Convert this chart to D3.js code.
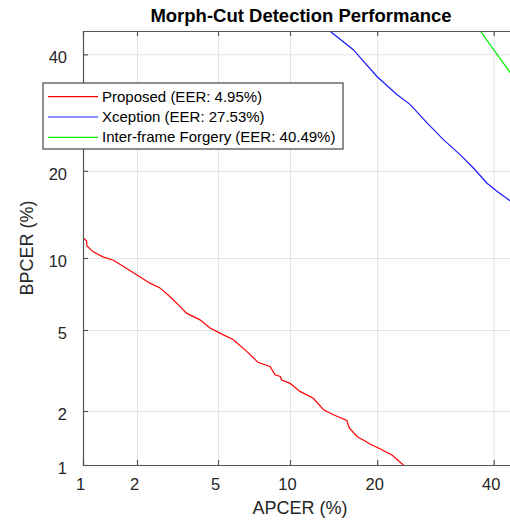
<!DOCTYPE html>
<html lang="en">
<head>
    <meta charset="UTF-8">
    <title>Morph-Cut Detection Performance</title>
    <script src="https://d3js.org/d3.v7.min.js"></script>
    <style>
        body {
            margin: 0;
            padding: 0;
            background-color: #ffffff;
        }

        svg {
            display: block;
            font-family: 'Liberation Sans', Arial, sans-serif;
        }

        .grid line {
            stroke: #e4e4e4;
        }

        .grid path {
            display: none;
        }

        .axis path,
        .axis line {
            stroke: #555555;
            stroke-width: 1.2;
        }

        .axis text {
            fill: #262626;
            font-size: 16.5px;
            font-family: 'Liberation Sans', Arial, sans-serif;
        }
    </style>
</head>
<body>
    <svg id="chart" width="510" height="522"></svg>

    <script>
        // tick values (percent)
        const xTicks = [1, 2, 5, 10, 20, 40];
        const yTicks = [1, 2, 5, 10, 20, 40];

        // Proposed
        const proposedApcer = [1.0, 1.05, 1.055, 1.14, 1.30, 1.49, 1.76, 1.99, 2.34, 2.63, 2.95, 3.31, 3.56, 4.13, 4.60,
            5.10, 5.85, 6.68, 7.47, 8.35, 8.74, 9.15, 9.3, 10.0, 10.9, 12.2, 13.3, 14.4, 16.0, 16.3, 17.3, 18.1,
            19.0, 20.4, 22.2, 23.9, 24.3];
        const proposedBpcer = [11.9, 11.6, 11.1, 10.58, 10.1, 9.8, 9.1, 8.6, 7.95, 7.6, 7.0, 6.35, 5.94, 5.55, 5.10,
            4.84, 4.51, 3.98, 3.52, 3.37, 3.07, 3.01, 2.89, 2.78, 2.53, 2.34, 2.03, 1.91, 1.78, 1.62, 1.45, 1.39,
            1.32, 1.24, 1.14, 1.0, 0.97];

        // Xception
        const xceptionApcer = [13.6, 14.0, 16.8, 20.0, 22.9, 25.0, 27.8, 30.6, 33.7, 36.1, 38.7, 40.7, 43.3, 45.0];
        const xceptionBpcer = [46.0, 44.6, 40.9, 35.7, 32.4, 30.6, 27.4, 24.7, 22.3, 20.4, 18.3, 17.2, 16.0, 15.3];

        // Inter-frame Forgery
        const forgeryApcer = [36.8, 37.4, 40.0, 43.3, 45.0];
        const forgeryBpcer = [46.0, 44.6, 40.9, 36.4, 34.6];

        const series = [
            { name: 'Proposed (EER: 4.95%)', color: '#ff0000', x: proposedApcer, y: proposedBpcer },
            { name: 'Xception (EER: 27.53%)', color: '#1a1aff', x: xceptionApcer, y: xceptionBpcer },
            { name: 'Inter-frame Forgery (EER: 40.49%)', color: '#00ee00', x: forgeryApcer, y: forgeryBpcer }
        ];

        // inverse normal CDF (Acklam)
        function probit(p) {
            const a = [-3.969683028665376e+01, 2.209460984245205e+02, -2.759285104469687e+02,
                1.383577518672690e+02, -3.066479806614716e+01, 2.506628277459239e+00];
            const b = [-5.447609879822406e+01, 1.615858368580409e+02, -1.556989798598866e+02,
                6.680131188771972e+01, -1.328068155288572e+01];
            const c = [-7.784894002430293e-03, -3.223964580411365e-01, -2.400758277161838e+00,
                -2.549732539343734e+00, 4.374664141464968e+00, 2.938163982698783e+00];
            const d = [7.784695709041462e-03, 3.224671290700398e-01, 2.445134137142996e+00,
                3.754408661907416e+00];
            const pl = 0.02425;
            let q, r;
            if (p < pl) {
                q = Math.sqrt(-2 * Math.log(p));
                return (((((c[0] * q + c[1]) * q + c[2]) * q + c[3]) * q + c[4]) * q + c[5]) /
                    ((((d[0] * q + d[1]) * q + d[2]) * q + d[3]) * q + 1);
            }
            if (p <= 1 - pl) {
                q = p - 0.5;
                r = q * q;
                return (((((a[0] * r + a[1]) * r + a[2]) * r + a[3]) * r + a[4]) * r + a[5]) * q /
                    (((((b[0] * r + b[1]) * r + b[2]) * r + b[3]) * r + b[4]) * r + 1);
            }
            q = Math.sqrt(-2 * Math.log(1 - p));
            return -(((((c[0] * q + c[1]) * q + c[2]) * q + c[3]) * q + c[4]) * q + c[5]) /
                ((((d[0] * q + d[1]) * q + d[2]) * q + d[3]) * q + 1);
        }
        const pz = v => probit(v / 100);

        const plotLeft = 83, plotRight = 517, plotTop = 31, plotBottom = 465;

        const xLin = d3.scaleLinear().domain([pz(1), pz(44.6)]).range([plotLeft, plotRight]);
        const yLin = d3.scaleLinear().domain([pz(1), pz(44.6)]).range([plotBottom, plotTop]);

        const svg = d3.select('#chart');

        svg.append('defs').append('clipPath').attr('id', 'plotClip')
            .append('rect')
            .attr('x', plotLeft).attr('y', plotTop)
            .attr('width', plotRight - plotLeft).attr('height', plotBottom - plotTop);

        // grid
        svg.append('g')
            .attr('class', 'grid')
            .attr('transform', `translate(0,${plotBottom})`)
            .call(d3.axisBottom(xLin).tickValues(xTicks.map(pz)).tickSize(-(plotBottom - plotTop)).tickFormat(''));
        svg.append('g')
            .attr('class', 'grid')
            .attr('transform', `translate(${plotLeft},0)`)
            .call(d3.axisLeft(yLin).tickValues(yTicks.map(pz)).tickSize(-(plotRight - plotLeft)).tickFormat(''));

        // curves
        const line = d3.line()
            .x(d => xLin(pz(d[0])))
            .y(d => yLin(pz(d[1])));

        svg.append('g')
            .attr('clip-path', 'url(#plotClip)')
            .selectAll('path')
            .data(series)
            .join('path')
            .attr('fill', 'none')
            .attr('stroke', d => d.color)
            .attr('stroke-width', 1.2)
            .attr('d', d => line(d.x.map((v, i) => [v, d.y[i]])));

        // axes (ticks inward)
        svg.append('g')
            .attr('class', 'axis')
            .attr('transform', `translate(0,${plotBottom})`)
            .call(d3.axisBottom(xLin).tickValues(xTicks.map(pz))
                .tickSizeInner(-5).tickSizeOuter(0).tickPadding(13)
                .tickFormat((d, i) => xTicks[i]))
            .selectAll('text').attr('dx', -3);
        svg.append('g')
            .attr('class', 'axis')
            .attr('transform', `translate(${plotLeft},0)`)
            .call(d3.axisLeft(yLin).tickValues(yTicks.map(pz))
                .tickSizeInner(-5).tickSizeOuter(0).tickPadding(16)
                .tickFormat((d, i) => yTicks[i]))
            .selectAll('text').attr('transform', 'translate(0,3)');
        svg.append('g')
            .attr('class', 'axis')
            .attr('transform', `translate(0,${plotTop})`)
            .call(d3.axisTop(xLin).tickValues(xTicks.map(pz))
                .tickSizeInner(-5).tickSizeOuter(0).tickFormat(''));
        svg.append('g')
            .attr('class', 'axis')
            .attr('transform', `translate(${plotRight},0)`)
            .call(d3.axisRight(yLin).tickValues(yTicks.map(pz))
                .tickSizeInner(-5).tickSizeOuter(0).tickFormat(''));

        // title and labels
        svg.append('text')
            .attr('x', 301).attr('y', 22)
            .attr('text-anchor', 'middle')
            .attr('font-size', 18.5)
            .attr('font-weight', 'bold')
            .attr('fill', '#000')
            .text('Morph-Cut Detection Performance');

        svg.append('text')
            .attr('x', 300).attr('y', 514)
            .attr('text-anchor', 'middle')
            .attr('font-size', 18)
            .attr('fill', '#262626')
            .text('APCER (%)');

        svg.append('text')
            .attr('transform', 'translate(33,248) rotate(-90)')
            .attr('text-anchor', 'middle')
            .attr('font-size', 18)
            .attr('fill', '#262626')
            .text('BPCER (%)');

        // legend
        const legend = svg.append('g');
        legend.append('rect')
            .attr('x', 43).attr('y', 83)
            .attr('width', 300).attr('height', 66)
            .attr('fill', '#fff')
            .attr('stroke', '#444')
            .attr('stroke-width', 1.2);

        const rows = legend.selectAll('g.row')
            .data(series)
            .join('g')
            .attr('class', 'row')
            .attr('transform', (d, i) => `translate(0,${96.7 + i * 20.3})`);

        rows.append('line')
            .attr('x1', 48).attr('x2', 98)
            .attr('stroke', d => d.color)
            .attr('stroke-width', 1.2);

        rows.append('text')
            .attr('x', 102).attr('y', 5)
            .attr('font-size', 15)
            .attr('fill', '#000')
            .text(d => d.name);
    </script>
</body>
</html>
